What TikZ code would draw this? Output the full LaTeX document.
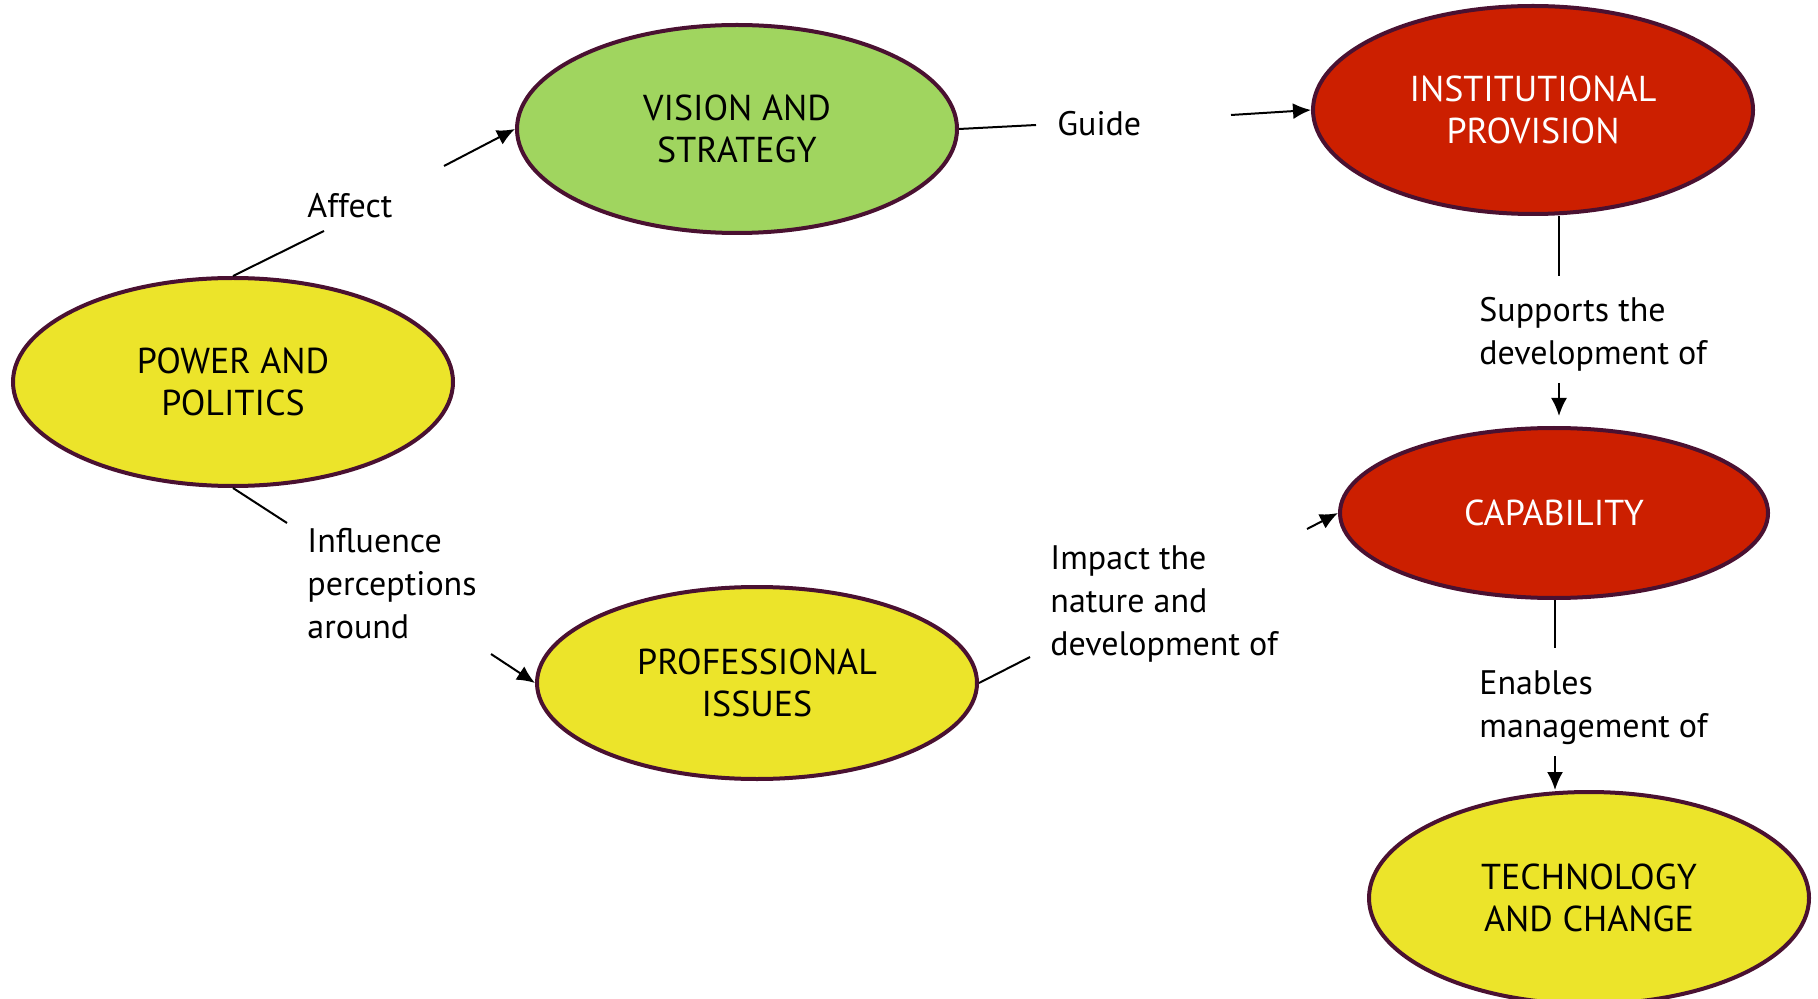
\documentclass[tikz,border=0pt]{standalone}
\usepackage{fontspec}
\setmainfont{PT Sans}
\usepackage{tikz}
\usetikzlibrary{shapes.geometric,arrows.meta}
\definecolor{ovalgreen}{HTML}{A0D55F}
\definecolor{ovalyellow}{HTML}{ECE42A}
\definecolor{ovalred}{HTML}{CC1F00}
\definecolor{ovalborder}{HTML}{4A1131}
\tikzstyle{myoval} = [draw=ovalborder, line width=2pt, ellipse,
    minimum width=220pt, minimum height=104pt, inner sep=0pt,
    align=center, font=\fontsize{18}{21}\selectfont]
\tikzstyle{mylabel} = [anchor=west, align=left, inner sep=0pt,
    font=\fontsize{17}{21.5}\selectfont]
\tikzstyle{myline} = [line width=1pt]
\tikzstyle{myarrow} = [line width=1pt, -{Latex[length=9pt,width=8pt]}]

\begin{document}
\begin{tikzpicture}[x=0.5pt, y=-0.5pt]
                \useasboundingbox (0,0) rectangle (1818,999);
                % concepts
                \node [myoval, fill=ovalgreen] (vision) at (737,129) {VISION AND\\STRATEGY};
                \node [myoval, fill=ovalred, text=white] (inst) at (1533,110) {INSTITUTIONAL\\PROVISION};
                \node [myoval, fill=ovalyellow] (power) at (233,382) {POWER AND\\POLITICS};
                \node [myoval, fill=ovalred, text=white, minimum width=214pt, minimum height=85pt] (cap) at (1554,513) {CAPABILITY};
                \node [myoval, fill=ovalyellow, minimum height=96pt] (prof) at (757,683) {PROFESSIONAL\\ISSUES};
                \node [myoval, fill=ovalyellow, minimum height=106pt] (tech) at (1589,898) {TECHNOLOGY\\AND CHANGE};
                % link texts
                \node [mylabel] (affect) at (307,206) {Affect};
                \node [mylabel] (guide) at (1057,124) {Guide};
                \node [mylabel] (supports) at (1479,334) {Supports the\\development of};
                \node [mylabel] (influence) at (307,584) {Influence\\perceptions\\around};
                \node [mylabel] (impact) at (1050,604) {Impact the\\nature and\\development of};
                \node [mylabel] (enables) at (1479,708) {Enables\\management of};
                % free ends
                \coordinate (affA) at (324,231);
                \coordinate (affB) at (444,166);
                \coordinate (guiA) at (1036,125);
                \coordinate (guiB) at (1231,115);
                \coordinate (supA) at (1559,276);
                \coordinate (supB) at (1559,383);
                \coordinate (infA) at (287,523);
                \coordinate (infB) at (491,654);
                \coordinate (impA) at (1030,657);
                \coordinate (impB) at (1307,529);
                \coordinate (enaA) at (1555,648);
                \coordinate (enaB) at (1555,756);
                % connectors
                \draw [myline] (power.north) -- (affA);
                \draw [myarrow] (affB) -- (vision.west);
                \draw [myline] (vision.east) -- (guiA);
                \draw [myarrow] (guiB) -- (inst.west);
                \draw [myline] (inst.south -| supA) -- (supA);
                \draw [myarrow, shorten >=5pt] (supB) -- (supB |- cap.north);
                \draw [myline] (power.south) -- (infA);
                \draw [myarrow] (infB) -- (prof.west);
                \draw [myline] (prof.east) -- (impA);
                \draw [myarrow] (impB) -- (cap.west);
                \draw [myline] (cap.south -| enaA) -- (enaA);
                \draw [myarrow] (enaB) -- (enaB |- tech.north);
            \end{tikzpicture}
\end{document}
